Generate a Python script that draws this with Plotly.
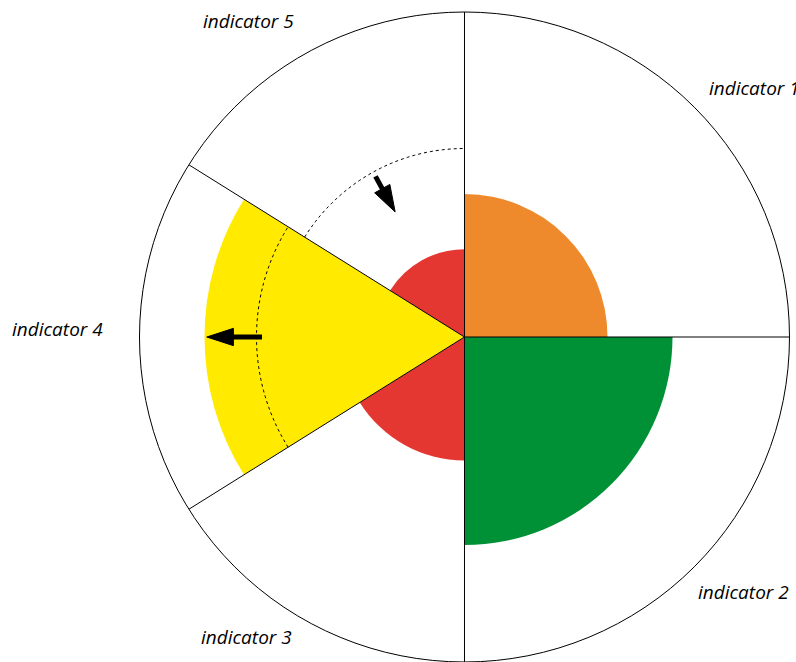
import numpy as np
import plotly.graph_objects as go

# ---- data ----
indicators = ["indicator 1", "indicator 2", "indicator 3", "indicator 4", "indicator 5"]
sector_widths = [90, 90, 58, 64, 58]           # degrees, clockwise from north
values = [0.44, 0.64, 0.38, 0.80, 0.27]
colors = ["#ee8a2b", "#009036", "#e53731", "#ffea00", "#e53731"]

# targets (dotted arcs) and change arrows
target_indicators = ["indicator 4", "indicator 5"]
target_values = [0.64, 0.58]
arrow_from = [0.623, 0.565]
arrow_to = [0.793, 0.44]
head_len = 0.05

# sector start / centre angles from the widths
starts = list(np.cumsum([0] + sector_widths[:-1]))
centers = [s + w / 2 for s, w in zip(starts, sector_widths)]

fig = go.Figure()

fig.add_trace(go.Barpolar(
    r=values, theta=centers, width=sector_widths,
    marker=dict(color=colors, line=dict(width=0)),
    hoverinfo="skip", showlegend=False,
))

# sector boundary lines (over the bars)
br, bt = [], []
for b in starts:
    br += [0, 1, None]
    bt += [b, b, None]
fig.add_trace(go.Scatterpolar(r=br, theta=bt, mode="lines",
                              line=dict(color="black", width=1),
                              hoverinfo="skip", showlegend=False))

# dotted target arcs
for name, tv in zip(target_indicators, target_values):
    i = indicators.index(name)
    th = np.linspace(starts[i], starts[i] + sector_widths[i], 80)
    fig.add_trace(go.Scatterpolar(r=[tv] * len(th), theta=th, mode="lines",
                                  line=dict(color="black", width=1, dash="dot"),
                                  hoverinfo="skip", showlegend=False))

# arrows (along the middle of each target sector)
for name, r0, r1 in zip(target_indicators, arrow_from, arrow_to):
    th = centers[indicators.index(name)]
    sign = 1 if r1 > r0 else -1
    fig.add_trace(go.Scatterpolar(
        r=[r0, r1 - sign * head_len], theta=[th, th], mode="lines",
        line=dict(color="black", width=5),
        hoverinfo="skip", showlegend=False))
    fig.add_trace(go.Scatterpolar(
        r=[r0, r1], theta=[th, th], mode="markers",
        marker=dict(symbol="arrow", size=[0, 28], color="black", opacity=1,
                    line=dict(width=1, color="black"), angleref="previous"),
        hoverinfo="skip", showlegend=False))

# labels
label_px = [(707, 88), (696, 592), (199, 637), (10, 329), (201, 21)]
annotations = []
for name, (px, py) in zip(indicators, label_px):
    annotations.append(dict(
        text=name, x=px / 796, y=1 - py / 662, xref="paper", yref="paper",
        xanchor="left", yanchor="middle", showarrow=False,
        font=dict(family="Open Sans", size=19, color="black", style="italic")))

fig.update_layout(
    width=796, height=662,
    margin=dict(l=0, r=0, t=0, b=0),
    paper_bgcolor="white", plot_bgcolor="white",
    polar=dict(
        domain=dict(x=[0.17525, 0.99183], y=[0, 0.98187]),
        bgcolor="white",
        radialaxis=dict(range=[0, 1], visible=False, showgrid=False),
        angularaxis=dict(rotation=90, direction="clockwise",
                         showgrid=False, showticklabels=False, ticks="",
                         showline=True, linecolor="black", linewidth=1),
    ),
    annotations=annotations,
    showlegend=False,
)

fig.write_html("out.html", config={"displayModeBar": False},
               post_script="document.body.style.margin='0';")
